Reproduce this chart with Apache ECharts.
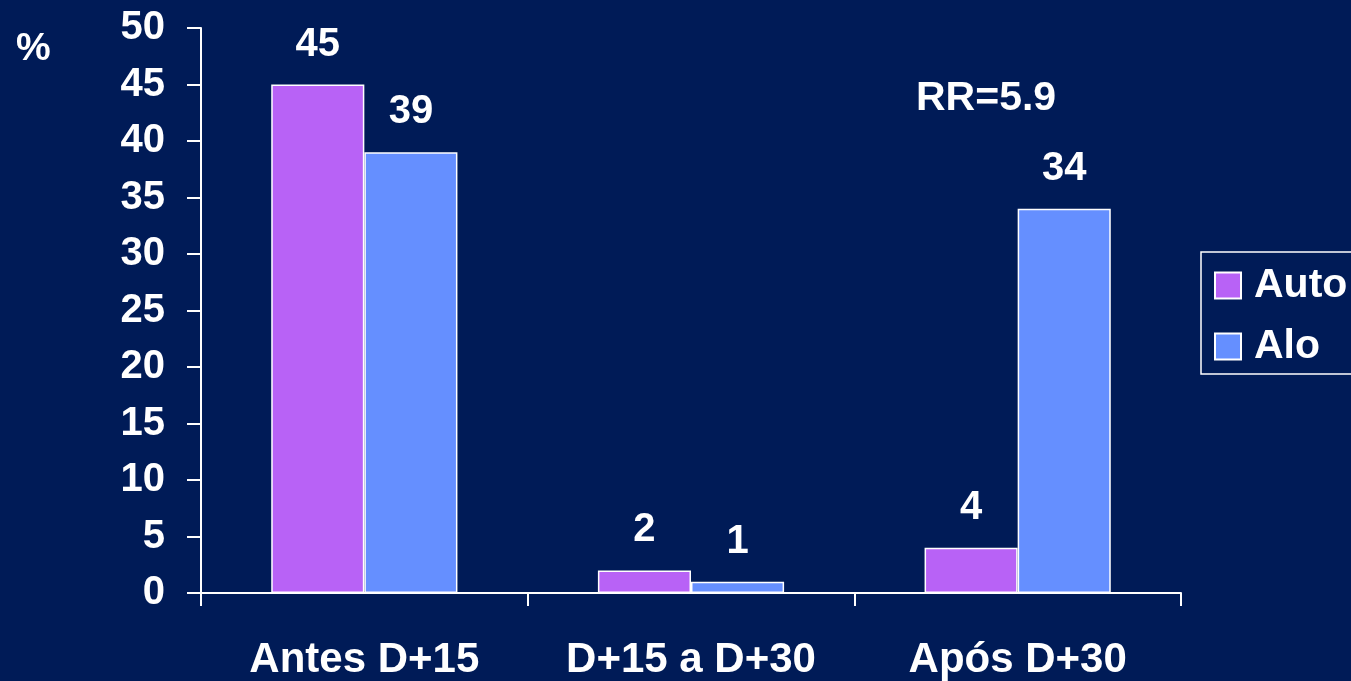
<!DOCTYPE html>
<html>
<head>
<meta charset="utf-8">
<script src="https://cdn.jsdelivr.net/npm/echarts@6/dist/echarts.min.js"></script>
<style>
  html, body { margin: 0; padding: 0; background: #001B57; }
  #chart { width: 1351px; height: 681px; }
</style>
</head>
<body>
<div id="chart"></div>
<script>
// Periods after transplant and the share of events in each group (%)
const categories = ['Antes D+15', 'D+15 a D+30', 'Após D+30'];
const autoValues = [45, 2, 4];
const aloValues = [39, 1, 34];
const yTicks = [0, 5, 10, 15, 20, 25, 30, 35, 40, 45, 50];

const FONT = '"Liberation Sans", Arial, sans-serif';
const WHITE = '#FFFFFF';

const chart = echarts.init(document.getElementById('chart'), null, { renderer: 'canvas' });

const labelStyle = {
  show: true,
  position: 'top',
  distance: 20,
  color: WHITE,
  fontFamily: FONT,
  fontWeight: 'bold',
  fontSize: 40
};

chart.setOption({
  backgroundColor: '#001B57',
  animation: false,
  grid: { left: 201, right: 170, top: 28, bottom: 84, containLabel: false },
  legend: {
    orient: 'vertical',
    left: 1201,
    top: 252,
    padding: [13, 14, 7, 13],
    itemGap: 20,
    itemWidth: 26,
    itemHeight: 26,
    itemTextGap: 14,
    icon: 'rect',
    borderColor: WHITE,
    borderWidth: 1.5,
    textStyle: {
      color: WHITE, fontFamily: FONT, fontWeight: 'bold', fontSize: 41,
      padding: [0, 0, 0, 8]
    },
    data: ['Auto', 'Alo']
  },
  xAxis: {
    type: 'category',
    data: categories,
    axisLine: { lineStyle: { color: WHITE, width: 2 } },
    axisTick: { show: true, length: 13, lineStyle: { color: WHITE, width: 2 } },
    axisLabel: { color: WHITE, fontFamily: FONT, fontWeight: 'bold', fontSize: 42, margin: 46 }
  },
  yAxis: {
    type: 'value',
    min: yTicks[0],
    max: yTicks[yTicks.length - 1],
    interval: yTicks[1] - yTicks[0],
    splitLine: { show: false },
    axisLine: { show: true, lineStyle: { color: WHITE, width: 2 } },
    axisTick: { show: true, length: 14, lineStyle: { color: WHITE, width: 2 } },
    axisLabel: { color: WHITE, fontFamily: FONT, fontWeight: 'bold', fontSize: 40, margin: 36 }
  },
  graphic: [
    {
      type: 'text', left: 16, top: 30,
      style: { text: '%', fill: WHITE, font: 'bold 39px ' + FONT }
    },
    {
      type: 'text', left: 916, top: 78,
      style: { text: 'RR=5.9', fill: WHITE, font: 'bold 41px ' + FONT }
    }
  ],
  series: [
    {
      name: 'Auto',
      type: 'bar',
      data: autoValues,
      barGap: '0%',
      barCategoryGap: '43%',
      itemStyle: { color: '#B862F6', borderColor: WHITE, borderWidth: 1.5 },
      label: labelStyle
    },
    {
      name: 'Alo',
      type: 'bar',
      data: aloValues,
      itemStyle: { color: '#658FFF', borderColor: WHITE, borderWidth: 1.5 },
      label: labelStyle
    }
  ]
});
</script>
</body>
</html>
